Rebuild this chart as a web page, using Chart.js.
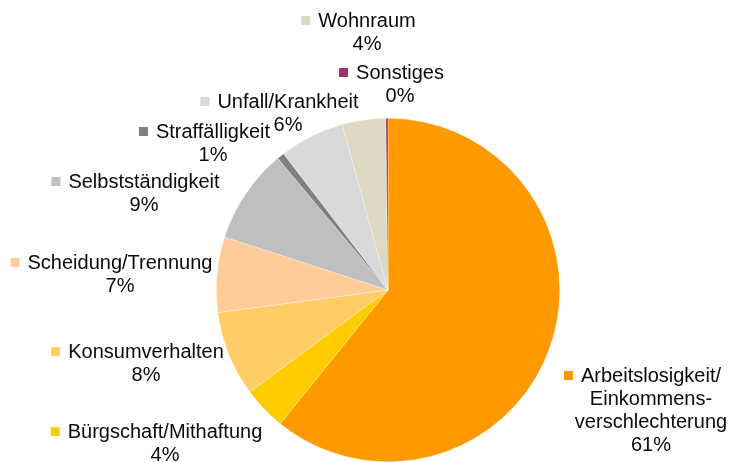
<!DOCTYPE html>
<html>
<head>
<meta charset="utf-8">
<script src="https://cdn.jsdelivr.net/npm/chart.js@4"></script>
<style>
  html, body { margin: 0; padding: 0; background: #fff; }
  #wrap { width: 730px; height: 462px; position: relative; }
</style>
</head>
<body>
<div id="wrap"><canvas id="pie" width="730" height="462"></canvas></div>
<script>
// ---------- Data ----------
const categories = [
  ["Arbeitslosigkeit/", "Einkommens-", "verschlechterung"],
  ["Bürgschaft/Mithaftung"],
  ["Konsumverhalten"],
  ["Scheidung/Trennung"],
  ["Selbstständigkeit"],
  ["Straffälligkeit"],
  ["Unfall/Krankheit"],
  ["Wohnraum"],
  ["Sonstiges"]
];
const shares = [60.8, 4.1, 8.0, 7.1, 8.9, 0.7, 6.1, 4.1, 0.2]; // percent

// ---------- Style ----------
const sliceColors = [
  "#FF9900", "#FFCC00", "#FFCC66", "#FFCC99", "#BFBFBF",
  "#808080", "#D9D9D9", "#DDD9C3", "#993366"
];
// where each label block sits: centre x of text, centre y of first line
const labelSpots = [
  [651, 376], [165, 432], [146, 352], [120, 263], [144, 182],
  [213, 132], [288, 102], [367, 21], [400, 73]
];
const FONT = '20px "Liberation Sans", Arial, sans-serif';
const LINE_H = 23;

// ---------- Labels plugin ----------
const outsideLabels = {
  id: "outsideLabels",
  afterDraw(chart) {
    const ctx = chart.ctx;
    const data = chart.data.datasets[0].data;
    const colors = chart.data.datasets[0].backgroundColor;
    ctx.save();
    ctx.font = FONT;
    ctx.textAlign = "center";
    ctx.textBaseline = "middle";
    chart.data.labels.forEach((lines, i) => {
      const [cx, cy] = labelSpots[i];
      const all = lines.concat([Math.round(data[i]) + "%"]);
      ctx.fillStyle = "#0a0a0a";
      all.forEach((t, k) => ctx.fillText(t, cx, cy + k * LINE_H));
      // colour marker left of first line
      const w = ctx.measureText(lines[0]).width;
      ctx.fillStyle = colors[i];
      ctx.fillRect(cx - w / 2 - 17, cy - 5, 9, 9);
    });
    ctx.restore();
  }
};

new Chart(document.getElementById("pie"), {
  type: "pie",
  data: {
    labels: categories,
    datasets: [{
      data: shares,
      backgroundColor: sliceColors,
      borderColor: "rgba(255,255,255,0.6)",
      borderWidth: 0.5
    }]
  },
  options: {
    responsive: false,
    animation: false,
    layout: { padding: { top: 118, left: 216, right: 170, bottom: 0 } },
    plugins: {
      legend: { display: false },
      tooltip: { enabled: false }
    }
  },
  plugins: [outsideLabels]
});
</script>
</body>
</html>
